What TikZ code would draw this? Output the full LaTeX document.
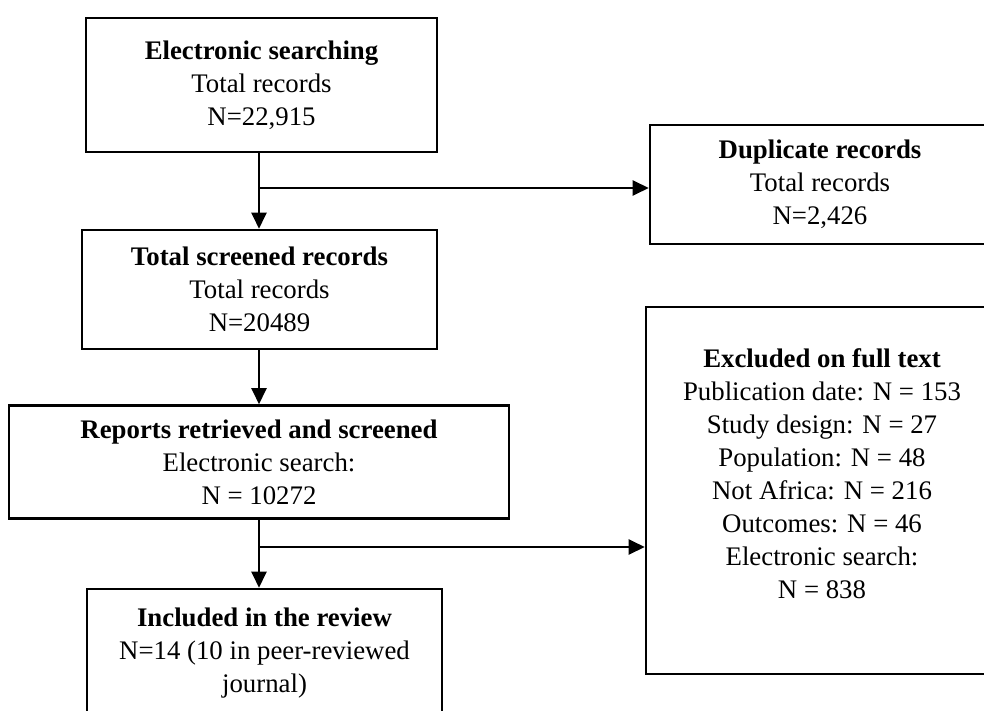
\documentclass[tikz,border=0pt]{standalone}
\usepackage{fontspec}
\setmainfont{Liberation Serif}
\usetikzlibrary{arrows.meta}

\begin{document}
\begin{tikzpicture}[x=1pt, y=-1pt,
  every node/.style={font=\fontsize{26.8}{33}\selectfont, align=center, inner sep=0pt},
  flowbox/.style={draw=black, line width=2.6pt, fill=white},
  link/.style={draw=black, line width=2.4pt},
  feed/.style={link, -{Triangle[length=16pt, width=15pt]}}
]
\useasboundingbox (0,0) rectangle (984,711);

% main column
\node[flowbox, minimum width=351pt, minimum height=134pt] (search) at (261.5,85)
  {\textbf{Electronic searching}\\Total records\\N=22,915};
\node[flowbox, minimum width=355pt, minimum height=119pt] (screened) at (259.5,289.5)
  {\textbf{Total screened records}\\Total records\\N=20489};
\node[flowbox, minimum width=500pt, minimum height=113pt] (reports) at (259,462)
  {\textbf{Reports retrieved and screened}\\Electronic search:\\N = 10272};
\node[flowbox, minimum width=355pt, minimum height=129pt] (included) at (264.5,653.5)
  {\textbf{Included in the review}\\N=14 (10 in peer-reviewed\\journal)};

% exclusion column
\node[flowbox, minimum width=340pt, minimum height=119pt] (dup) at (820,184.5)
  {\textbf{Duplicate records}\\Total records\\N=2,426};
\node[flowbox, minimum width=352pt, minimum height=367pt] (excl) at (822,490.5) {};
\node (excltext) at (822,473.5)
  {\textbf{Excluded on full text}\\Publication date: N = 153\\Study design: N = 27\\Population: N = 48\\Not Africa: N = 216\\Outcomes: N = 46\\Electronic search:\\N = 838};

% junctions on the main flow line
\coordinate (j1) at (259,188);
\coordinate (j2) at (259,547);

\draw[feed] (j1 |- search.south) -- (j1 |- screened.north);
\draw[feed] (j1) -- (j1 -| dup.west);
\draw[feed] (j1 |- screened.south) -- (j1 |- reports.north);
\draw[feed] (j2 |- reports.south) -- (j2 |- included.north);
\draw[feed] (j2) -- (j2 -| excl.west);
\end{tikzpicture}
\end{document}
